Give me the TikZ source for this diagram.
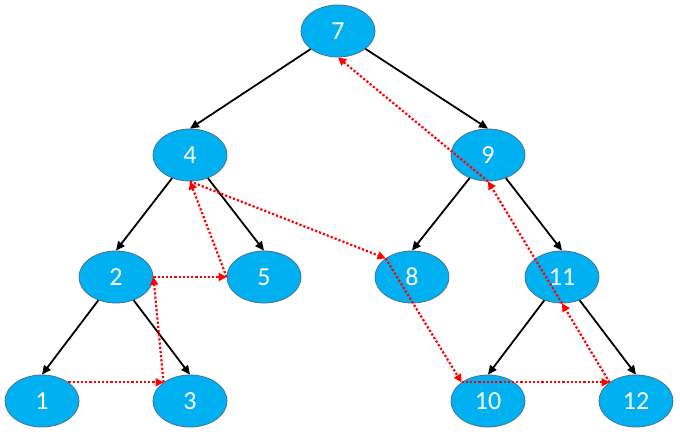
\documentclass[tikz,border=0pt]{standalone}
\usepackage{fontspec}
\setmainfont{Carlito}
\usetikzlibrary{shapes.geometric,arrows.meta}
\begin{document}
\begin{tikzpicture}[x=1pt,y=-1pt,line join=round,
  key/.style={ellipse,draw={rgb,255:red,65;green,113;blue,156},line width=0.8pt,
    fill={rgb,255:red,0;green,176;blue,240},minimum width=74pt,minimum height=52pt,
    inner sep=0pt,text=white,font=\fontsize{26}{30}\selectfont},
  child/.style={line width=1.8pt,-{Triangle[length=9pt,width=8pt]}},
  thread/.style={red,line width=2.2pt,dash pattern=on 2.2pt off 2pt,
    -{Triangle[length=8pt,width=8pt]}}]
  \useasboundingbox (0,0) rectangle (680,434);
  \node[key] (n7) at (338,31) {7};
  \node[key] (n4) at (190,155) {4};
  \node[key] (n9) at (488,155) {9};
  \node[key] (n2) at (116,277) {2};
  \node[key] (n5) at (264,277) {5};
  \node[key] (n8) at (412,277) {8};
  \node[key] (n11) at (562,277) {11};
  \node[key] (n1) at (42,401) {1};
  \node[key] (n3) at (190,401) {3};
  \node[key] (n10) at (488,401) {10};
  \node[key] (n12) at (636,401) {12};
  \draw[child] (n7) -- (n4.north);
  \draw[child] (n7) -- (n9.north);
  \draw[child] (n4) -- (n2.north);
  \draw[child] (n4) -- (n5.north);
  \draw[child] (n9) -- (n8.north);
  \draw[child] (n9) -- (n11.north);
  \draw[child] (n2) -- (n1.north);
  \draw[child] (n2) -- (n3.north);
  \draw[child] (n11) -- (n10.north);
  \draw[child] (n11) -- (n12.north);
  \draw[thread] (n1.north east) -- (n3.north west);
  \draw[thread] (n3.north west) -- (n2.east);
  \draw[thread] (n2.east) -- (n5.west);
  \draw[thread] (n5.west) -- (n4.south);
  \draw[thread] (n4.south) -- (n8.north west);
  \draw[thread] (n8.north west) -- (n10.north west);
  \draw[thread] (n10.north west) -- (n12.north west);
  \draw[thread] (n12.north west) -- (n11.south);
  \draw[thread] (n11.south) -- (n9.south);
  \draw[thread] (n9.south) -- (n7.south);
\end{tikzpicture}
\end{document}
